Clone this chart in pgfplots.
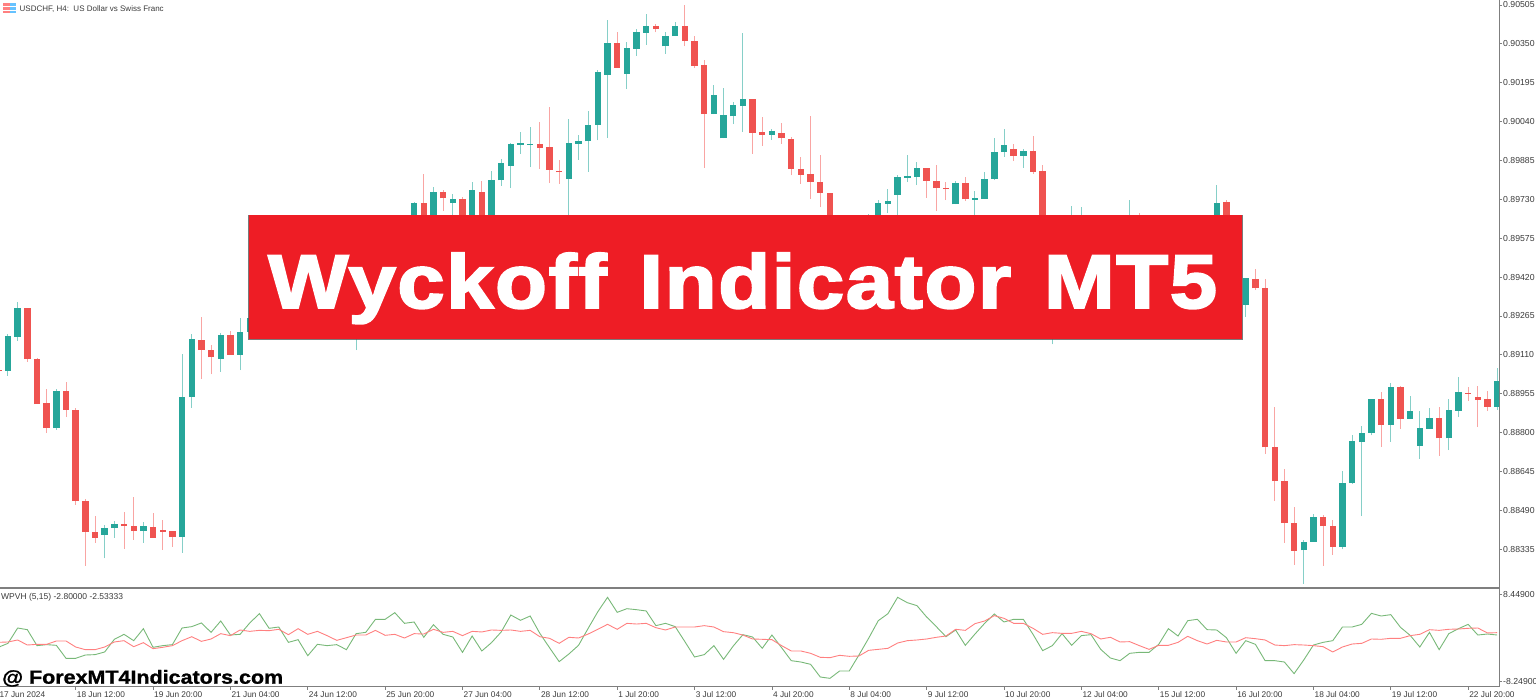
\documentclass[border=0pt]{standalone}
\usepackage{pgfplots}
\usepackage{pgfplotstable}
\usepackage{fontspec}
\pgfplotsset{compat=1.18}
\setmainfont{Liberation Sans}
\newfontfamily\bannerfont[FakeBold=2.6,FakeStretch=1.12,LetterSpace=2,WordSpace=1.3]{Liberation Sans Bold}
\newfontfamily\brandfont[FakeBold=1.2,FakeStretch=1.13]{Liberation Sans Bold}
\definecolor{upc}{HTML}{26A69A}
\definecolor{dnc}{HTML}{EF5350}
\definecolor{upw}{HTML}{86CFC8}
\definecolor{dnw}{HTML}{F9A5A3}
\definecolor{axc}{HTML}{7F7F7F}
\definecolor{txc}{HTML}{3A3A3A}
\definecolor{wg}{HTML}{78B878}
\definecolor{wr}{HTML}{FF8080}
% candles are missing where they lie wholly behind the banner
\pgfplotstableread{
k o h l c
0 .89045 .89193 .89027 .89185
1 .89182 .89322 .89166 .89298
5 .88818 .88973 .88811 .88967
10 .88393 .88433 .88298 .88420
11 .88419 .88446 .88381 .88435
14 .88407 .88442 .88360 .88426
18 .88383 .89113 .88321 .88942
19 .88943 .89192 .88899 .89173
22 .89093 .89196 .89043 .89190
24 .89110 .89258 .89049 .89200
25 .89201 .89256 .89201 .89256
36 .89249 .89349 .89129 .89329
42 .89628 .89719 .89608 .89714
44 .89628 .89778 .89608 .89761
46 .89717 .89750 .89660 .89731
48 .89628 .89800 .89608 .89767
50 .89628 .89842 .89588 .89808
51 .89806 .89890 .89784 .89874
52 .89864 .89953 .89775 .89951
53 .89948 .89999 .89911 .89955
54 .89948 .90019 .89858 .89951
58 .89811 .90049 .89608 .89953
59 .89952 .89985 .89887 .89961
60 .89961 .90082 .89840 .90025
61 .90028 .90246 .89965 .90238
62 .90226 .90445 .89975 .90353
64 .90230 .90357 .90170 .90332
65 .90330 .90409 .90303 .90396
66 .90395 .90469 .90347 .90421
68 .90340 .90397 .90310 .90383
69 .90381 .90437 .90381 .90421
73 .90070 .90186 .90070 .90145
74 .89973 .90173 .89973 .90065
75 .90061 .90117 .90030 .90105
76 .90103 .90395 .90000 .90131
79 .89988 .90009 .89967 .90001
89 .89588 .89672 .89568 .89628
90 .89628 .89729 .89588 .89717
91 .89713 .89770 .89674 .89722
92 .89748 .89826 .89660 .89820
93 .89816 .89906 .89799 .89823
94 .89820 .89879 .89787 .89854
98 .89710 .89802 .89710 .89796
100 .89729 .89763 .89664 .89734
101 .89731 .89839 .89731 .89812
102 .89811 .89975 .89807 .89919
103 .89918 .90009 .89899 .89948
105 .89903 .89930 .89855 .89923
108 .89229 .89349 .89152 .89309
110 .89488 .89704 .89408 .89608
111 .89488 .89698 .89408 .89588
116 .89528 .89727 .89468 .89628
125 .89628 .89788 .89568 .89717
128 .89310 .89418 .89262 .89415
134 .88330 .88372 .88197 .88362
135 .88365 .88475 .88365 .88462
138 .88344 .88646 .88334 .88599
139 .88598 .88790 .88594 .88765
140 .88762 .88826 .88467 .88799
141 .88798 .88933 .88789 .88933
143 .88830 .88998 .88763 .88983
145 .88854 .88947 .88854 .88885
146 .88747 .88885 .88696 .88818
147 .88815 .88897 .88815 .88859
149 .88777 .88934 .88730 .88889
150 .88886 .89021 .88863 .88960
154 .88902 .89057 .88890 .89004
}\upcandles
\pgfplotstableread{
k o h l c
-1 .89049 .89053 .89041 .89045
2 .89295 .89295 .89082 .89093
3 .89094 .89098 .88913 .88913
4 .88918 .88972 .88798 .88818
6 .88966 .89000 .88861 .88890
7 .88889 .88899 .88511 .88526
8 .88527 .88536 .88268 .88403
9 .88403 .88468 .88360 .88381
12 .88435 .88482 .88337 .88427
13 .88427 .88544 .88372 .88407
15 .88423 .88479 .88381 .88381
16 .88410 .88451 .88332 .88405
17 .88406 .88406 .88344 .88383
20 .89168 .89261 .89013 .89129
21 .89129 .89148 .89032 .89100
23 .89190 .89204 .89110 .89110
43 .89714 .89831 .89608 .89628
45 .89761 .89766 .89683 .89734
47 .89731 .89738 .89608 .89628
49 .89761 .89803 .89588 .89628
55 .89950 .90040 .89850 .89936
56 .89939 .90098 .89795 .89847
57 .89844 .89887 .89792 .89838
63 .90353 .90399 .90255 .90255
67 .90420 .90429 .90396 .90409
70 .90421 .90505 .90340 .90361
71 .90363 .90381 .90255 .90263
72 .90266 .90284 .89856 .90070
77 .90129 .90131 .89912 .89996
78 .89999 .90057 .89943 .89988
80 .89993 .90036 .89952 .89973
81 .89972 .89980 .89826 .89851
82 .89851 .89900 .89792 .89828
83 .89832 .90064 .89731 .89799
84 .89799 .89907 .89698 .89756
85 .89755 .89755 .89608 .89628
95 .89854 .89854 .89737 .89804
96 .89803 .89867 .89683 .89775
97 .89775 .89799 .89727 .89771
99 .89796 .89818 .89723 .89730
104 .89931 .89951 .89882 .89903
106 .89924 .89983 .89832 .89840
107 .89842 .89868 .89289 .89329
117 .89588 .89674 .89448 .89508
126 .89719 .89727 .89608 .89628
129 .89412 .89452 .89368 .89375
130 .89376 .89414 .88716 .88741
131 .88741 .88903 .88526 .88606
132 .88606 .88655 .88360 .88439
133 .88439 .88503 .88272 .88329
136 .88462 .88470 .88268 .88427
137 .88427 .88450 .88313 .88344
142 .88933 .88962 .88742 .88830
144 .88983 .88986 .88815 .88854
148 .88859 .88902 .88708 .88777
151 .88959 .88982 .88927 .88956
152 .88942 .88986 .88822 .88931
153 .88933 .88966 .88885 .88902
}\dncandles
\pgfplotstableread{
k g r
-1 -1.68 -0.73
0 -0.92 -0.66
1 2.01 -0.28
2 1.69 -1.24
3 -1.36 -1.11
4 -1.17 -1.11
5 -1.30 -0.47
6 -3.78 -0.47
7 -3.78 -1.62
8 -3.15 -2.13
9 -3.08 -2.13
10 -2.57 -1.62
11 -0.15 -0.66
12 0.80 -0.41
13 -0.41 -1.56
14 1.88 -0.79
15 -1.68 -1.94
16 -1.36 -1.68
17 -1.17 -1.36
18 2.01 -0.41
19 2.27 0.35
20 2.97 -0.54
21 1.18 -0.09
22 3.35 0.93
23 0.67 0.55
24 0.80 1.63
25 2.97 1.37
26 4.75 1.56
27 1.95 1.50
28 2.20 1.76
29 -0.73 0.74
30 -0.22 1.88
31 -3.28 0.80
32 -1.11 1.37
33 -1.36 0.55
34 -1.17 -0.35
35 -2.13 0.16
36 0.93 0.67
37 1.18 0.67
38 3.67 1.56
39 3.67 0.61
40 4.94 0.80
41 2.90 0.10
42 3.16 0.93
43 0.23 0.86
44 2.65 1.76
45 0.80 1.18
46 0.29 1.37
47 -2.64 0.55
48 0.48 1.37
49 -2.38 1.25
50 -0.79 1.63
51 1.25 1.56
52 4.49 1.63
53 3.48 1.37
54 4.30 1.56
55 0.99 0.35
56 -1.75 0.04
57 -4.42 -0.92
58 -2.96 0.23
59 -1.30 0.10
60 1.95 0.86
61 5.13 1.76
62 7.87 2.71
63 5.00 1.76
64 5.70 2.90
65 5.51 2.77
66 5.26 2.90
67 2.46 2.07
68 2.90 1.63
69 2.27 2.20
70 -0.60 2.20
71 -3.53 2.20
72 -3.08 2.46
73 -1.36 2.20
74 -3.98 1.31
75 -1.43 1.12
76 0.74 0.67
77 0.29 -0.09
78 -1.87 -0.15
79 0.67 -0.22
80 -1.75 -1.36
81 -4.23 -2.38
82 -4.49 -2.38
83 -4.93 -2.83
84 -7.35 -3.59
85 -7.61 -3.66
86 -6.20 -3.21
87 -6.20 -3.40
88 -3.15 -3.34
89 0.04 -2.26
90 3.41 -2.07
91 4.75 -1.87
92 7.87 -0.86
93 6.85 -0.41
94 6.28 -0.28
95 4.11 -0.09
96 2.27 0.23
97 0.35 0.48
98 1.63 1.76
99 -1.30 1.56
100 0.86 2.84
101 2.90 3.35
102 4.69 4.37
103 3.16 3.86
104 3.67 2.90
105 3.67 2.90
106 0.80 1.95
107 -2.32 0.80
108 -1.36 1.12
109 0.93 0.99
110 -1.30 0.99
111 0.55 1.37
112 0.74 0.93
113 -2.07 -0.09
114 -3.72 0.23
115 -4.23 -0.66
116 -2.83 -0.60
117 -2.64 -1.36
118 -2.64 -2.07
119 -1.11 -1.30
120 1.88 -1.30
121 0.48 -0.73
122 3.41 0.42
123 3.67 -0.41
124 1.69 -1.05
125 1.63 -0.35
126 0.16 -0.66
127 -2.83 -0.66
128 -0.41 0.16
129 -1.11 -0.03
130 -4.23 -0.28
131 -4.23 -1.24
132 -4.49 -1.36
133 -6.71 -1.17
134 -4.10 -1.24
135 -1.24 -1.36
136 -0.73 -1.56
137 -0.41 -2.57
138 2.20 -1.62
139 2.20 -1.05
140 2.71 -0.92
141 4.81 -0.09
142 4.30 -0.15
143 4.56 0.04
144 2.14 0.04
145 0.61 0.55
146 -1.62 0.80
147 1.18 1.69
148 -2.13 1.56
149 0.93 1.76
150 1.88 1.82
151 2.71 1.95
152 0.67 2.01
153 0.86 1.06
154 0.67 1.12
}\wpvh
\begin{document}
\begin{tikzpicture}[x=1pt,y=1pt]
\path[use as bounding box] (0,0) rectangle (1536,700);
\pgfplotsset{
 common/.style={
  scale only axis, xmin=-1, xmax=154.19, width=1500.67pt,
  axis y line*=right, axis x line*=bottom,
  axis line style={color=axc},
  tick style={color=axc, line width=0.8pt},
  tick align=outside, major tick length=3pt,
  ticklabel style={font=\fontsize{8.7}{10}\selectfont, color=txc},
  yticklabel style={anchor=west, inner sep=0pt, xshift=1pt},
  y tick label style={/pgf/number format/fixed},
 }
}
\begin{axis}[common, at={(-1.67pt,112pt)}, anchor=south west, height=588pt,
  ymin=0.88180, ymax=0.90525, xtick=\empty,
  axis line style={color=axc, line width=1pt},
  x axis line style={line width=1.6pt},
  ytick={0.90505,0.90350,0.90195,0.90040,0.89885,0.89730,0.89575,0.89420,0.89265,0.89110,0.88955,0.88800,0.88645,0.88490,0.88335},
  yticklabels={0.90505,0.90350,0.90195,0.90040,0.89885,0.89730,0.89575,0.89420,0.89265,0.89110,0.88955,0.88800,0.88645,0.88490,0.88335},
  ]
 \addplot[draw=none, no markers, forget plot, error bars/.cd, y dir=plus, y explicit, error mark=none, error bar style={line width=1pt, color=upw}]
   table[x=k, y=l, y error plus expr={\thisrow{h}-\thisrow{l}}] {\upcandles};
 \addplot[draw=none, no markers, forget plot, error bars/.cd, y dir=plus, y explicit, error mark=none, error bar style={line width=1pt, color=dnw}]
   table[x=k, y=l, y error plus expr={\thisrow{h}-\thisrow{l}}] {\dncandles};
 \addplot[draw=none, no markers, forget plot, error bars/.cd, y dir=plus, y explicit, error mark=none, error bar style={line width=6.4pt, color=upc}]
   table[x=k, y=o, y error plus expr={\thisrow{c}-\thisrow{o}}] {\upcandles};
 \addplot[draw=none, no markers, forget plot, error bars/.cd, y dir=plus, y explicit, error mark=none, error bar style={line width=6.4pt, color=dnc}]
   table[x=k, y=c, y error plus expr={\thisrow{o}-\thisrow{c}}] {\dncandles};
\end{axis}
\begin{axis}[common, at={(-1.67pt,13.3pt)}, anchor=south west, height=98.7pt,
  ymin=-9.204, ymax=9.653,
  axis line style={color=axc, line width=1pt},
  axis x line*=bottom,
  x axis line style={line width=1.6pt},
  xtick={-1,7,...,151},
  xticklabels={17 Jun 2024,18 Jun 12:00,19 Jun 20:00,21 Jun 04:00,24 Jun 12:00,25 Jun 20:00,27 Jun 04:00,28 Jun 12:00,1 Jul 20:00,3 Jul 12:00,4 Jul 20:00,8 Jul 04:00,9 Jul 12:00,10 Jul 20:00,12 Jul 04:00,15 Jul 12:00,16 Jul 20:00,18 Jul 04:00,19 Jul 12:00,22 Jul 20:00},
  xticklabel style={anchor=north west, inner sep=0pt, xshift=1pt, yshift=-1.5pt, font=\fontsize{8.3}{10}\selectfont},
  ytick={8.449,-8.249},
  yticklabels={8.44900,-8.24900},
  ]
 \addplot[color=wg, line width=0.9pt, no markers] table[x=k, y=g] {\wpvh};
 \addplot[color=wr, line width=0.9pt, no markers] table[x=k, y=r] {\wpvh};
\end{axis}
% title, icon
\fill[red!50!white] (3,687) rectangle (9.5,697);
\fill[blue!40!cyan!60!white] (9.5,687) rectangle (16,697);
\draw[white, line width=0.5pt] (3,690) -- (16,690) (3,693.5) -- (16,693.5);
\node[anchor=base west, inner sep=0pt, font=\fontsize{8}{10}\selectfont, text=txc] at (19.5,688.2) {USDCHF, H4:\ \ US Dollar vs Swiss Franc};
\node[anchor=base west, inner sep=0pt, font=\fontsize{8.5}{10}\selectfont, text=txc] at (1,100.5) {WPVH (5,15) -2.80000 -2.53333};
% banner
\fill[black!65, opacity=.8] (248,360) rectangle (1242.5,485);
\fill[fill={rgb,255:red,238;green,29;blue,37}] (248.5,360.6) rectangle (1241.8,484.6);
\node[anchor=base west, inner sep=0pt, text=white, font=\bannerfont\fontsize{76}{76}\selectfont] at (268,392) {Wyckoff Indicator MT5};
\node[anchor=base west, inner sep=0pt, text=black, font=\brandfont\fontsize{19}{20}\selectfont] at (2,16.3) {@ ForexMT4Indicators.com};
\end{tikzpicture}
\end{document}
